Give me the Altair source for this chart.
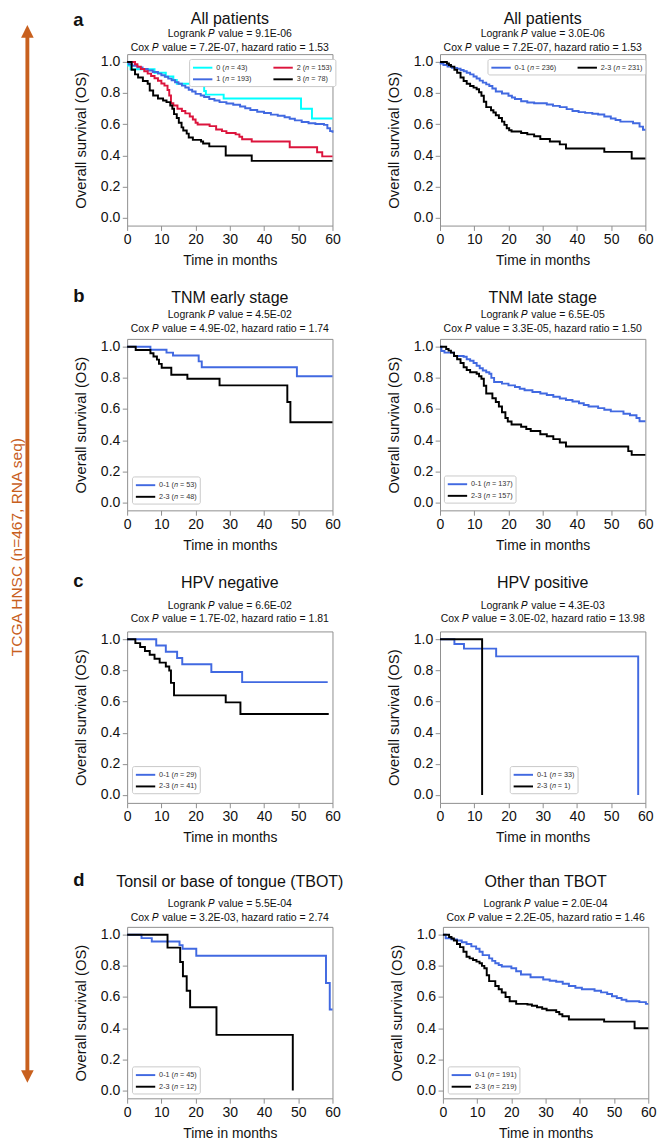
import altair as alt
import pandas as pd

FONT = "Liberation Sans"
BLUE = "#4169E1"
CYAN = "#00FFFF"
RED = "#DC143C"
BLACK = "#000000"
ORANGE = "#C8601E"
FRAME = "#8c8c8c"
TXT = "#111111"

# ---------------- data: (month, survival) step points ----------------
# a: all patients, 4 groups
A4_G0 = [(0, 1.0), (0.3, 0.977), (1.0, 0.953), (8.0, 0.93), (11.3, 0.907), (13.5, 0.884), (14.5, 0.86),
         (22.5, 0.814), (23.0, 0.79), (28.2, 0.765), (50.8, 0.70), (54.0, 0.637), (60, 0.637)]
A4_G1 = [(0, 1.0), (0.5, 0.985), (1.5, 0.975), (3.0, 0.965), (4.5, 0.955), (6.0, 0.945), (7.5, 0.935),
         (9.0, 0.925), (10.0, 0.915), (11.0, 0.905), (12.0, 0.893), (13.0, 0.882), (14.0, 0.87), (15.0, 0.86),
         (16.0, 0.848), (17.0, 0.836), (18.0, 0.822), (19.0, 0.81), (20.0, 0.795), (21.5, 0.785), (22.5, 0.775),
         (24.0, 0.762), (25.5, 0.752), (27.0, 0.742), (29.0, 0.733), (31.0, 0.725), (33.0, 0.714), (34.5, 0.703),
         (36.0, 0.692), (38.0, 0.68), (40.0, 0.672), (42.0, 0.662), (44.0, 0.655), (46.0, 0.645), (47.5, 0.635),
         (49.0, 0.625), (51.0, 0.615), (53.0, 0.607), (55.0, 0.602), (57.5, 0.596), (58.5, 0.575), (59.3, 0.556),
         (60, 0.545)]
A4_G2 = [(0, 1.0), (2.3, 0.985), (3.0, 0.97), (4.0, 0.955), (5.0, 0.94), (6.0, 0.925), (7.0, 0.91), (8.0, 0.895),
         (9.0, 0.879), (10.0, 0.862), (10.9, 0.848), (11.8, 0.82), (12.3, 0.785), (12.8, 0.735), (13.5, 0.72),
         (14.7, 0.70), (16.0, 0.685), (17.0, 0.67), (18.3, 0.65), (19.2, 0.63), (20.0, 0.61), (20.6, 0.598),
         (24.1, 0.588), (26.0, 0.567), (27.7, 0.556), (29.0, 0.544), (31.7, 0.535), (32.8, 0.52), (33.6, 0.504),
         (36.4, 0.49), (47.5, 0.452), (55.5, 0.42), (57.0, 0.394), (60, 0.394)]
A4_G3 = [(0, 1.0), (1.3, 0.95), (2.3, 0.92), (3.2, 0.9), (4.6, 0.877), (6.0, 0.86), (6.6, 0.817), (7.6, 0.785),
         (9.0, 0.765), (10.5, 0.752), (11.5, 0.742), (12.6, 0.72), (13.2, 0.70), (13.7, 0.665), (14.5, 0.64),
         (15.1, 0.61), (15.9, 0.58), (16.4, 0.56), (17.4, 0.54), (18.0, 0.515), (19.2, 0.50), (21.6, 0.49),
         (22.2, 0.477), (24.0, 0.458), (28.8, 0.40), (36.4, 0.365), (60, 0.365)]

# a: all patients, 2 groups
A2_LOW = [(0, 1.0), (0.2, 0.99), (1.0, 0.98), (2.2, 0.97), (3.5, 0.962), (5.0, 0.956), (6.0, 0.948), (6.9, 0.94),
          (7.8, 0.93), (8.8, 0.92), (9.8, 0.907), (10.7, 0.894), (11.6, 0.88), (12.5, 0.867), (13.5, 0.856),
          (14.4, 0.846), (15.3, 0.83), (16.3, 0.81), (18.1, 0.798), (20.0, 0.783), (21.0, 0.772), (21.9, 0.7625),
          (23.7, 0.748), (25.5, 0.74), (27.5, 0.735), (31.2, 0.727), (33.0, 0.718), (35.0, 0.71), (37.0, 0.697),
          (38.7, 0.685), (40.5, 0.678), (42.4, 0.673), (44.5, 0.667), (46.2, 0.6625), (48.0, 0.65), (49.9, 0.6375),
          (51.3, 0.627), (52.7, 0.617), (56.4, 0.606), (58.3, 0.585), (59.3, 0.565), (60, 0.565)]
A2_HIGH = [(0, 1.0), (2.0, 0.99), (2.6, 0.98), (3.2, 0.97), (4.2, 0.95), (5.0, 0.93), (6.0, 0.9), (6.9, 0.877),
           (7.8, 0.86), (8.8, 0.846), (9.8, 0.835), (10.7, 0.825), (11.4, 0.805), (12.1, 0.783), (12.8, 0.745),
           (13.5, 0.71), (14.9, 0.69), (15.6, 0.675), (16.3, 0.658), (17.2, 0.64), (18.1, 0.617), (18.8, 0.596),
           (19.5, 0.575), (20.2, 0.562), (20.9, 0.554), (23.7, 0.544), (25.5, 0.535), (27.5, 0.523), (29.3, 0.506),
           (32.1, 0.49), (35.0, 0.471), (36.8, 0.444), (48.0, 0.423), (56.0, 0.38), (60, 0.38)]

# b: TNM early / late stage
B_EARLY_LOW = [(0, 1.0), (6.8, 0.981), (11.5, 0.962), (13.4, 0.943), (20.9, 0.906), (21.8, 0.868), (49.6, 0.81),
               (60, 0.81)]
B_EARLY_HIGH = [(0, 1.0), (2.5, 0.979), (6.8, 0.958), (7.7, 0.937), (8.7, 0.917), (9.3, 0.89), (10.1, 0.865),
                (12.9, 0.82), (17.6, 0.795), (27.0, 0.752), (46.8, 0.645), (47.7, 0.515), (60, 0.515)]
B_LATE_LOW = [(0, 1.0), (0.4, 0.973), (1.3, 0.962), (4.1, 0.94), (6.9, 0.935), (7.8, 0.92), (8.8, 0.91),
              (9.8, 0.895), (10.7, 0.878), (11.6, 0.862), (12.5, 0.847), (13.5, 0.836), (14.4, 0.826), (15.0, 0.8),
              (15.8, 0.774), (18.1, 0.763), (20.0, 0.752), (21.9, 0.742), (23.3, 0.73), (24.7, 0.721), (27.0, 0.71),
              (29.3, 0.70), (31.2, 0.69), (33.1, 0.679), (35.0, 0.668), (36.8, 0.658), (38.7, 0.648), (40.6, 0.637),
              (42.0, 0.626), (43.4, 0.616), (46.2, 0.606), (48.0, 0.595), (49.9, 0.585), (53.6, 0.57), (55.5, 0.56),
              (57.4, 0.543), (58.3, 0.522), (60, 0.522)]
B_LATE_HIGH = [(0, 1.0), (1.8, 0.985), (2.5, 0.975), (3.2, 0.962), (4.1, 0.94), (5.0, 0.92), (6.0, 0.895),
               (6.9, 0.868), (7.8, 0.85), (8.8, 0.836), (10.7, 0.826), (11.4, 0.81), (12.1, 0.795), (12.8, 0.75),
               (13.5, 0.70), (15.3, 0.669), (16.3, 0.645), (17.2, 0.616), (18.1, 0.58), (19.1, 0.543), (19.8, 0.52),
               (20.9, 0.501), (23.7, 0.486), (25.2, 0.472), (26.5, 0.459), (29.3, 0.438), (31.2, 0.425),
               (33.1, 0.407), (35.0, 0.385), (36.8, 0.36), (55.0, 0.33), (56.0, 0.306), (60, 0.306)]

# c: HPV negative / positive
C_NEG_LOW = [(0, 1.0), (8.5, 0.96), (11.3, 0.92), (14.6, 0.88), (16.1, 0.84), (24.6, 0.79), (33.6, 0.725),
             (58.6, 0.725)]
C_NEG_HIGH = [(0, 1.0), (2.4, 0.975), (3.8, 0.95), (5.2, 0.925), (6.6, 0.90), (8.0, 0.875), (9.5, 0.85),
              (11.3, 0.825), (12.3, 0.80), (12.8, 0.72), (13.7, 0.64), (28.8, 0.595), (33.1, 0.52), (58.9, 0.52)]
C_POS_LOW = [(0, 1.0), (4.2, 0.97), (7.0, 0.94), (16.4, 0.89), (57.9, 0.0)]
C_POS_HIGH = [(0, 1.0), (12.3, 0.0)]

# d: TBOT / other than TBOT
D_TBOT_LOW = [(0, 1.0), (4.2, 0.978), (7.2, 0.956), (15.3, 0.933), (16.2, 0.91), (20.2, 0.865), (58.1, 0.69),
              (59.2, 0.52), (60, 0.52)]
D_TBOT_HIGH = [(0, 1.0), (11.8, 0.917), (15.5, 0.825), (16.3, 0.733), (17.4, 0.64), (18.4, 0.535),
               (26.1, 0.357), (48.4, 0.0)]
D_OTHER_LOW = [(0, 1.0), (0.8, 0.977), (2.5, 0.97), (4.1, 0.9625), (5.5, 0.952), (6.9, 0.94), (8.3, 0.925),
               (9.7, 0.91), (10.7, 0.89), (11.6, 0.869), (13.5, 0.848), (14.4, 0.832), (15.3, 0.817), (16.3, 0.805),
               (17.2, 0.796), (20.0, 0.785), (21.4, 0.765), (22.8, 0.744), (25.6, 0.727), (29.3, 0.7125),
               (31.2, 0.705), (33.1, 0.698), (35.0, 0.685), (36.8, 0.671), (38.7, 0.66), (40.6, 0.65), (44.3, 0.64),
               (46.2, 0.63), (48.0, 0.619), (49.4, 0.605), (50.8, 0.594), (52.2, 0.583), (53.6, 0.573),
               (57.4, 0.5675), (59.3, 0.556), (60, 0.556)]
D_OTHER_HIGH = [(0, 1.0), (1.8, 0.985), (2.5, 0.975), (3.2, 0.9625), (4.1, 0.94), (5.0, 0.92), (6.0, 0.89),
                (6.9, 0.858), (7.8, 0.848), (8.8, 0.8375), (9.8, 0.827), (10.7, 0.817), (11.4, 0.80), (12.1, 0.785),
                (12.8, 0.74), (13.5, 0.702), (15.3, 0.671), (16.3, 0.65), (17.2, 0.629), (18.3, 0.60), (19.5, 0.573),
                (21.4, 0.556), (24.7, 0.552), (26.0, 0.544), (27.5, 0.535), (29.0, 0.525), (30.3, 0.515),
                (33.1, 0.504), (34.0, 0.49), (34.9, 0.477), (36.8, 0.456), (47.1, 0.442), (56.0, 0.40), (60, 0.40)]

X_TICKS = [0, 10, 20, 30, 40, 50, 60]
Y_TICKS = [0.0, 0.2, 0.4, 0.6, 0.8, 1.0]
ARROW_LABEL = "TCGA HNSC (n=467, RNA seq)"

W, H = 212, 177


def lab(g, n):
    return f"{g} (\U0001D45B = {n})"


def panel(series, legend_order, title, logrank, cox, pad, off, legpos, columns):
    rng = [c for lbl in legend_order for (l2, c, _) in series if l2 == lbl]
    scale = alt.Scale(domain=legend_order, range=rng)
    legend = alt.Legend(
        title=None, orient="none", legendX=legpos[0], legendY=legpos[1], columns=columns,
        direction="horizontal" if columns > 1 else "vertical",
        values=legend_order,
        fillColor="white", strokeColor="#c8c8c8", cornerRadius=2, padding=3,
        labelFontSize=7.5, labelColor="#333333", labelFont=FONT, rowPadding=2, columnPadding=18,
        symbolType="M-1,0H3", symbolSize=100, symbolStrokeWidth=2, labelOffset=13,
    )
    layers = []
    for lbl, col, pts in series:
        df = pd.DataFrame({"t": [p[0] for p in pts], "s": [p[1] for p in pts], "g": lbl})
        layers.append(
            alt.Chart(df).mark_line(interpolate="step-after", strokeWidth=2).encode(
                x=alt.X("t:Q", scale=alt.Scale(domain=[0, 60], nice=False, zero=False),
                        axis=alt.Axis(values=X_TICKS, title="Time in months")),
                y=alt.Y("s:Q", scale=alt.Scale(domain=[-0.05, 1.05], nice=False, zero=False),
                        axis=alt.Axis(values=Y_TICKS, format=".1f", title="Overall survival (OS)")),
                color=alt.Color("g:N", scale=scale, legend=legend),
            )
        )
    return alt.layer(*layers).properties(
        width=W, height=H,
        title=alt.TitleParams(
            text=title,
            subtitle=[f"Logrank \U0001D443 value = {logrank}", f"Cox \U0001D443 value = {cox}"],
            fontSize=16.5, fontWeight="normal", font=FONT, color=TXT,
            subtitleFontSize=10.8, subtitleFont=FONT, subtitleColor=TXT, subtitleLineHeight=14,
            subtitlePadding=pad, offset=off, anchor="middle", frame="group",
        ),
    )


a_left = panel(
    [(lab("0", 43), CYAN, A4_G0), (lab("1", 193), BLUE, A4_G1), (lab("2", 153), RED, A4_G2),
     (lab("3", 78), BLACK, A4_G3)],
    [lab("0", 43), lab("2", 153), lab("1", 193), lab("3", 78)],
    "All patients", "9.1E-06", "7.2E-07, hazard ratio = 1.53", 1.5, 1.5, (64, 5), 2)
a_right = panel(
    [(lab("0-1", 236), BLUE, A2_LOW), (lab("2-3", 231), BLACK, A2_HIGH)],
    [lab("0-1", 236), lab("2-3", 231)],
    "All patients", "3.0E-06", "7.2E-07, hazard ratio = 1.53", 1.5, 1.5, (49, 5), 2)
b_left = panel(
    [(lab("0-1", 53), BLUE, B_EARLY_LOW), (lab("2-3", 48), BLACK, B_EARLY_HIGH)],
    [lab("0-1", 53), lab("2-3", 48)],
    "TNM early stage", "4.5E-02", "4.9E-02, hazard ratio = 1.74", 3, 5.5, (5, 142), 1)
b_right = panel(
    [(lab("0-1", 137), BLUE, B_LATE_LOW), (lab("2-3", 157), BLACK, B_LATE_HIGH)],
    [lab("0-1", 137), lab("2-3", 157)],
    "TNM late stage", "6.5E-05", "3.3E-05, hazard ratio = 1.50", 3, 5.5, (4, 141), 1)
c_left = panel(
    [(lab("0-1", 29), BLUE, C_NEG_LOW), (lab("2-3", 41), BLACK, C_NEG_HIGH)],
    [lab("0-1", 29), lab("2-3", 41)],
    "HPV negative", "6.6E-02", "1.7E-02, hazard ratio = 1.81", 9, 7.5, (5, 139), 1)
c_right = panel(
    [(lab("0-1", 33), BLUE, C_POS_LOW), (lab("2-3", 1), BLACK, C_POS_HIGH)],
    [lab("0-1", 33), lab("2-3", 1)],
    "HPV positive", "4.3E-03", "3.0E-02, hazard ratio = 13.98", 9, 7.5, (72, 139), 1)
d_left = panel(
    [(lab("0-1", 45), BLUE, D_TBOT_LOW), (lab("2-3", 12), BLACK, D_TBOT_HIGH)],
    [lab("0-1", 45), lab("2-3", 12)],
    "Tonsil or base of tongue (TBOT)", "5.5E-04", "3.2E-03, hazard ratio = 2.74", 8, 4.5, (5, 144), 1)
d_right = panel(
    [(lab("0-1", 191), BLUE, D_OTHER_LOW), (lab("2-3", 219), BLACK, D_OTHER_HIGH)],
    [lab("0-1", 191), lab("2-3", 219)],
    "Other than TBOT", "2.0E-04", "2.2E-05, hazard ratio = 1.46", 8, 4.5, (5, 144), 1)


def row(l, r, letter, off=-16, sp=46):
    return alt.hconcat(
        l, r, spacing=sp,
        title=alt.TitleParams(text=letter, anchor="start", frame="bounds", fontSize=19, fontWeight="bold",
                              font=FONT, color=TXT, offset=off),
    ).resolve_scale(color="independent").resolve_legend(color="independent")


rA = row(a_left, a_right, "a", off=-20)
rB = row(b_left, b_right, "b")
rC = row(c_left, c_right, "c")
rD = row(d_left, d_right, "d")

grid = alt.vconcat(
    rA,
    alt.vconcat(rB, alt.vconcat(rC, rD, spacing=26).resolve_scale(color="independent"),
                spacing=19).resolve_scale(color="independent"),
    spacing=19,
).resolve_scale(color="independent").resolve_legend(color="independent")

one = pd.DataFrame({"k": [0]})
shaft = alt.Chart(one).mark_rule(color=ORANGE, strokeWidth=4).encode(
    x=alt.value(19), y=alt.value(-20), y2=alt.value(1053))
head_up = alt.Chart(one).mark_point(shape="M0,-1L1,1L-1,1Z", size=169, filled=True, color=ORANGE,
                                    opacity=1, strokeWidth=0).encode(x=alt.value(19), y=alt.value(-23.5))
head_down = alt.Chart(one).mark_point(shape="M0,1L1,-1L-1,-1Z", size=169, filled=True, color=ORANGE,
                                      opacity=1, strokeWidth=0).encode(x=alt.value(19), y=alt.value(1055.5))
arrow_text = alt.Chart(pd.DataFrame({"txt": [ARROW_LABEL]})).mark_text(
    angle=270, fontSize=16, color=ORANGE, baseline="middle", align="center", font=FONT
).encode(text="txt:N", x=alt.value(8), y=alt.value(509))
arrow = alt.layer(shaft, head_up, head_down, arrow_text).properties(
    width=30, height=1000, view=alt.ViewBackground(stroke="transparent"))

chart = alt.hconcat(
    arrow, grid, spacing=35, padding={"top": -16, "left": 0, "right": 0, "bottom": 0}
).resolve_scale(color="independent").configure(
    font=FONT
).configure_view(stroke=FRAME, strokeWidth=1).configure_axis(
    domain=False, grid=False, tickColor=FRAME, tickSize=5, labelFontSize=14.5, titleFontSize=14.3,
    titleFontWeight="normal", labelColor=TXT, titleColor=TXT, labelPadding=2.5, labelFlush=False,
    labelFont=FONT, titleFont=FONT,
).configure_axisX(titlePadding=8).configure_axisY(titlePadding=12.5, titleFontSize=15.3)

chart.save("out.html", embed_options={"renderer": "svg", "actions": False})
